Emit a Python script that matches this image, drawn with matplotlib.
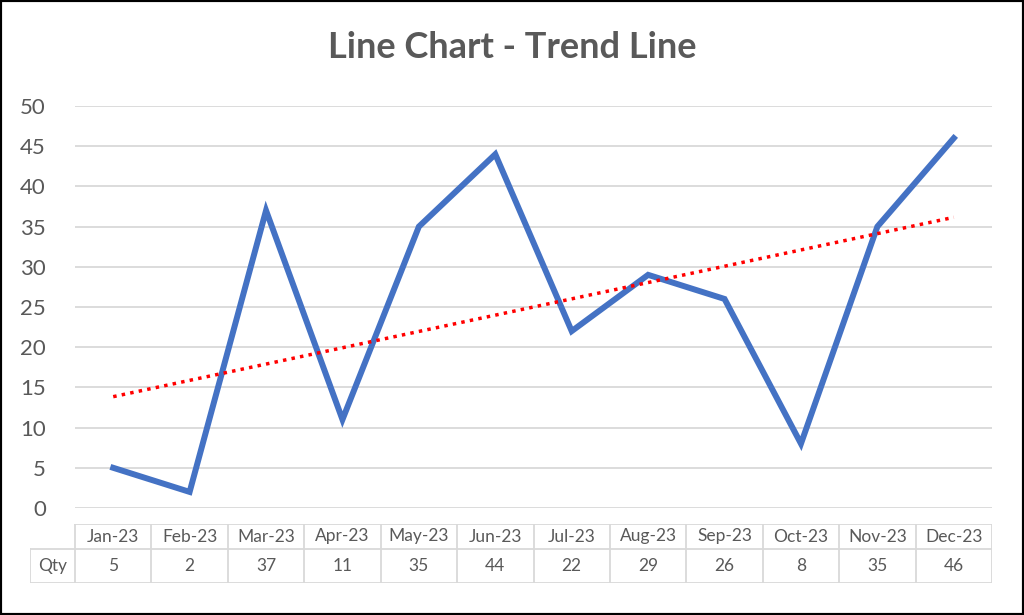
import numpy as np
import matplotlib.pyplot as plt
from matplotlib.patches import Rectangle

months = ['Jan-23', 'Feb-23', 'Mar-23', 'Apr-23', 'May-23', 'Jun-23',
          'Jul-23', 'Aug-23', 'Sep-23', 'Oct-23', 'Nov-23', 'Dec-23']
qty = [5, 2, 37, 11, 35, 44, 22, 29, 26, 8, 35, 46]
yticks = [0, 5, 10, 15, 20, 25, 30, 35, 40, 45, 50]

plt.rcParams['font.family'] = ['Lato', 'DejaVu Sans']
gray = '#595959'
W, H = 1024, 615

fig = plt.figure(figsize=(W / 100, H / 100), dpi=100)
fig.patches.append(Rectangle((0, 0), 1, 1, transform=fig.transFigure,
                             fill=False, edgecolor='black', linewidth=3))

# main plot area (pixel positions from the reference)
ax = fig.add_axes([75 / W, 1 - 508 / H, (992 - 75) / W, (508 - 106) / H])
x = np.arange(len(qty))
ax.plot(x, qty, color='#4472C4', linewidth=4.3, solid_joinstyle='miter', zorder=3)

# linear trend line fitted on the data
k, b = np.polyfit(x, qty, 1)
ax.plot(x, k * x + b, color='#FF0000', linewidth=2.5, linestyle=(0, (1, 1.5)), zorder=4)

ax.set_xlim(-0.5, len(qty) - 0.5)
ax.set_ylim(0, 50)
ax.set_yticks(yticks)
for t in yticks:
    ax.axhline(t, color='#D9D9D9', linewidth=1.3, zorder=1)
for s in ax.spines.values():
    s.set_visible(False)
ax.tick_params(axis='y', length=0, labelsize=16, labelcolor=gray, pad=21)
ax.set_xticks([])

fig.text(0.5, 1 - 48 / H, 'Line Chart - Trend Line', ha='center', va='center',
         fontsize=26, fontweight='bold', color=gray)

# data table under the chart
tb = fig.add_axes([30 / W, 1 - 583 / H, (992 - 30) / W, (583 - 524) / H])
colw = (992 - 75) / 12
left = -(75 - 30) / colw - 0.5
tb.set_xlim(left, len(qty) - 0.5)
tb.set_ylim(0, 1)
tb.axis('off')
mid = (583 - 549) / (583 - 524)
lc = '#D9D9D9'
tb.plot([-0.5, 11.5], [1, 1], color=lc, lw=1.3)
tb.plot([left, 11.5], [mid, mid], color=lc, lw=1.3)
tb.plot([left, 11.5], [0, 0], color=lc, lw=1.3)
tb.plot([left, left], [0, mid], color=lc, lw=1.3)
for i in range(len(qty) + 1):
    tb.plot([i - 0.5, i - 0.5], [0, 1], color=lc, lw=1.3)
for i, (m, q) in enumerate(zip(months, qty)):
    tb.text(i, (1 + mid) / 2, m, ha='center', va='center', fontsize=12.5, color=gray)
    tb.text(i, mid / 2, str(q), ha='center', va='center', fontsize=12.5, color=gray)
tb.text((left - 0.5) / 2, mid / 2, 'Qty', ha='center', va='center', fontsize=12.5, color=gray)

fig.savefig('out.png', dpi=100)
